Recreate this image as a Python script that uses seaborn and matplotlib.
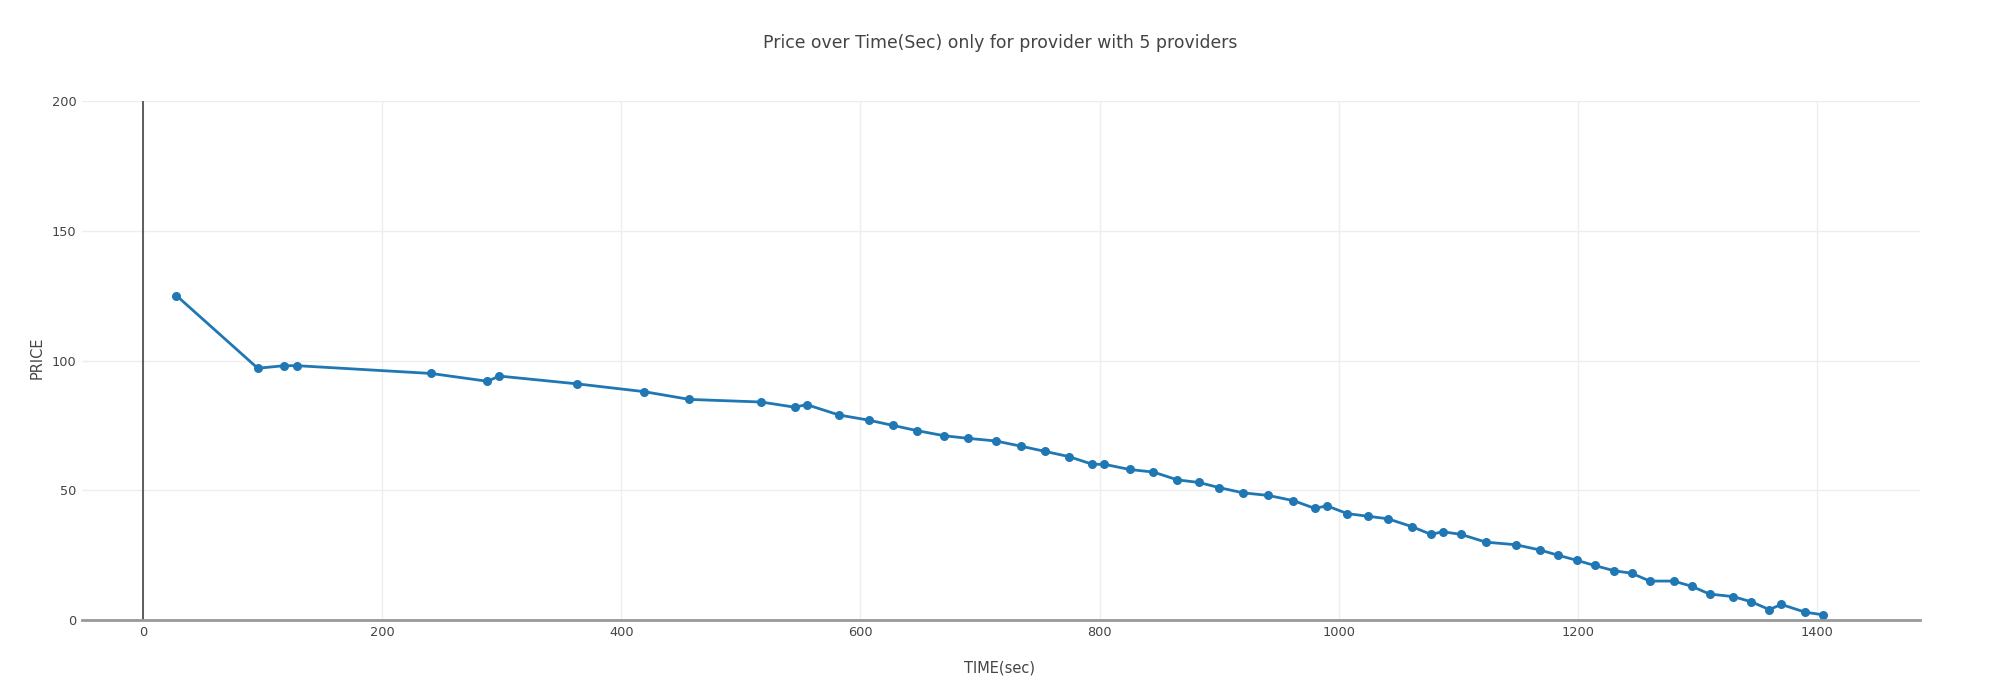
import matplotlib
matplotlib.use("Agg")
import matplotlib.pyplot as plt
import seaborn as sns
import pandas as pd

time_sec = [28, 96, 118, 129, 241, 288, 298, 363, 419, 457, 517, 545, 555, 582, 607, 627,
            647, 670, 690, 713, 734, 754, 774, 794, 804, 825, 845, 865, 883, 900, 920, 941,
            962, 980, 990, 1007, 1024, 1041, 1061, 1077, 1087, 1102, 1123, 1148, 1168, 1183,
            1199, 1214, 1230, 1245, 1260, 1280, 1295, 1310, 1330, 1345, 1360, 1370, 1390, 1405]
price = [125, 97, 98, 98, 95, 92, 94, 91, 88, 85, 84, 82, 83, 79, 77, 75,
         73, 71, 70, 69, 67, 65, 63, 60, 60, 58, 57, 54, 53, 51, 49, 48,
         46, 43, 44, 41, 40, 39, 36, 33, 34, 33, 30, 29, 27, 25,
         23, 21, 19, 18, 15, 15, 13, 10, 9, 7, 4, 6, 3, 2]

x_ticks = [0, 200, 400, 600, 800, 1000, 1200, 1400]
y_ticks = [0, 50, 100, 150, 200]

title = "Price over Time(Sec) only for provider with 5 providers"
x_label = "TIME(sec)"
y_label = "PRICE"

df = pd.DataFrame({"time": time_sec, "price": price})

sns.set_theme(style="white")
plt.rcParams["font.family"] = ["DejaVu Sans"]

fig = plt.figure(figsize=(20, 7), dpi=100)
ax = fig.add_axes([0.041, 0.1143, 0.919, 0.7414])

ax.grid(True, color="#eeeeee", linewidth=1.0)
ax.set_axisbelow(True)

sns.lineplot(data=df, x="time", y="price", ax=ax, color="#1f77b4", linewidth=2.0,
             marker="o", markersize=6.5, markeredgewidth=0, zorder=3)

ax.axvline(0, color="#444444", linewidth=1.2, zorder=2)

ax.set_xlim(-51, 1486)
ax.set_ylim(0, 200)
ax.set_xticks(x_ticks)
ax.set_yticks(y_ticks)
ax.tick_params(axis="both", length=0, labelsize=9.3, colors="#444444", pad=4)

for s in ["top", "right", "left"]:
    ax.spines[s].set_visible(False)
ax.spines["bottom"].set_color("#999999")
ax.spines["bottom"].set_linewidth(2.0)
ax.spines["bottom"].set_zorder(4)

ax.set_xlabel("")
ax.set_ylabel("")
fig.text(0.5, 0.0457, x_label, ha="center", va="center", fontsize=10.5, color="#444444")
fig.text(0.0185, 0.4886, y_label, ha="center", va="center", rotation=90, fontsize=10.5,
         color="#444444")
fig.text(0.5, 0.9386, title, ha="center", va="center", fontsize=12.4, color="#444444")

fig.savefig("out.png", dpi=100, facecolor="white")
